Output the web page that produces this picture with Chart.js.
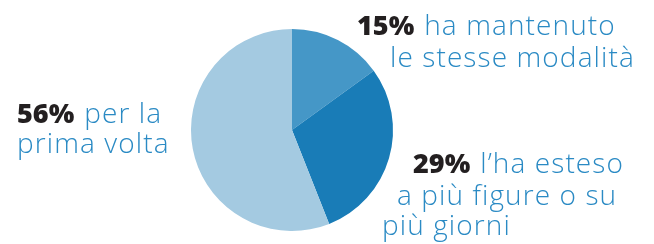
<!DOCTYPE html>
<html>
<head>
<meta charset="utf-8">
<script src="https://cdn.jsdelivr.net/npm/chart.js@4"></script>
<style>
  html, body { margin: 0; padding: 0; background: #fff; }
  #wrap { width: 654px; height: 244px; position: relative; }
</style>
</head>
<body>
<div id="wrap"><canvas id="pieChart" width="654" height="244"></canvas></div>
<script>
const categories = ["ha mantenuto le stesse modalità", "l'ha esteso a più figure o su più giorni", "per la prima volta"];
const values = [15, 29, 56];
const sliceColors = ["#4597c7", "#197cb7", "#a4cae1"];
const labelLines = [
    ["ha mantenuto", "le stesse modalità"],
    ["l’ha esteso", "a più figure o su", "più giorni"],
    ["per la", "prima volta"],
];

// where each label block goes (first line start and baseline, then the others)
const labelPlaces = [
    [[357, 35], [390, 67]],
    [[413, 173], [397, 205], [382, 235]],
    [[17, 123], [17, 153]],
];

const calloutPlugin = {
    id: "callouts",
    afterDraw(chart) {
        const ctx = chart.ctx;
        ctx.save();
        ctx.textBaseline = "alphabetic";
        ctx.textAlign = "left";
        values.forEach((v, i) => {
            labelLines[i].forEach((line, j) => {
                let [x, y] = labelPlaces[i][j];
                if (j === 0) {
                    ctx.letterSpacing = "0px";
                    ctx.font = "800 27px 'Open Sans'";
                    ctx.fillStyle = "#231f20";
                    const pct = v + "%";
                    ctx.fillText(pct, x, y);
                    x += ctx.measureText(pct).width + 10;
                }
                ctx.letterSpacing = "1.1px";
                ctx.font = "300 28px 'Open Sans'";
                ctx.fillStyle = "#2a8ac4";
                ctx.fillText(line, x, y);
            });
        });
        ctx.restore();
    },
};

new Chart(document.querySelector("#pieChart"), {
    type: "pie",
    data: {
        labels: categories,
        datasets: [
            {
                data: values,
                backgroundColor: sliceColors,
                borderWidth: 0,
            },
        ],
    },
    options: {
        responsive: false,
        animation: false,
        layout: { padding: { left: 191, right: 261, top: 29, bottom: 13 } },
        plugins: {
            legend: { display: false },
            tooltip: { enabled: false },
        },
    },
    plugins: [calloutPlugin],
});
</script>
</body>
</html>
